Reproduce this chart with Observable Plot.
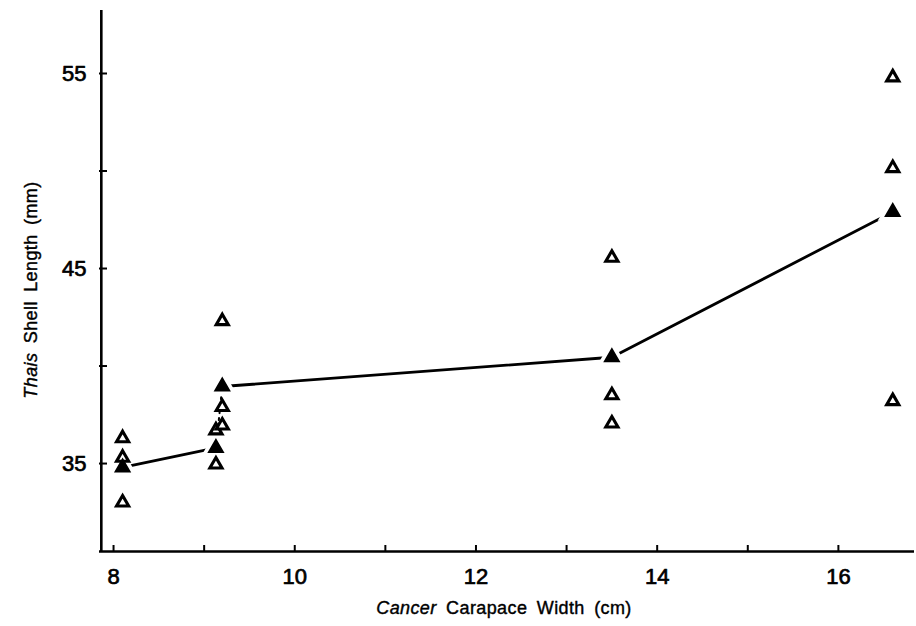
<!DOCTYPE html>
<html>
<head>
<meta charset="utf-8">
<script src="https://cdn.jsdelivr.net/npm/d3@7"></script>
<script src="https://cdn.jsdelivr.net/npm/@observablehq/plot@0.6"></script>
<style>
  html, body { margin: 0; padding: 0; background: #fff; }
  #chart svg { display: block; }
</style>
</head>
<body>
<div id="chart"></div>
<script>
// Individual observations (open triangles)
const obsX = [8.1, 8.1, 8.1, 9.13, 9.13, 9.2, 9.2, 9.2, 13.5, 13.5, 13.5, 16.6, 16.6, 16.6];
const obsY = [36.3, 35.3, 33.0, 36.7, 34.95, 42.3, 37.9, 36.95, 45.55, 38.5, 37.05, 54.8, 50.15, 38.2];

// Means (filled triangles, joined by the line)
const meanX = [8.1, 9.13, 9.2, 13.5, 16.6];
const meanY = [34.8, 35.8, 38.95, 40.45, 47.9];
const meanGroup = ["a", "a", "b", "b", "b"];

// Axis ticks and labels
const xTicks = [8, 9, 10, 11, 12, 13, 14, 15, 16];
const xLabels = [8, 10, 12, 14, 16];
const yTicks = [35, 40, 45, 50, 55];
const yLabels = [35, 45, 55];

const xDomain = [7.845, 16.84];
const yDomain = [30.49, 58.23];

const obs = obsX.map((x, i) => ({x, y: obsY[i]}));
const means = meanX.map((x, i) => ({x, y: meanY[i], g: meanGroup[i]}));
const dotted = means.slice(1, 3);

const W = 916, H = 626;
const mTop = 10, mBottom = 75, mLeft = 99, mRight = 2;
const innerH = H - mTop - mBottom, innerW = W - mLeft - mRight;
const font = "'Liberation Sans', Arial, sans-serif";

const plot = Plot.plot({
  width: W,
  height: H,
  marginTop: mTop,
  marginBottom: mBottom,
  marginLeft: mLeft,
  marginRight: mRight,
  style: {fontFamily: font, color: "#000", background: "#fff"},
  x: {domain: xDomain, label: null, axis: null},
  y: {domain: yDomain, label: null, axis: null},
  marks: [
    // axis lines
    Plot.ruleY([yDomain[0]], {stroke: "#000", strokeWidth: 2.6}),
    Plot.ruleX([xDomain[0] + 0.02], {stroke: "#000", strokeWidth: 2.6}),
    // inward ticks
    Plot.tickX(xTicks, {x: d => d, stroke: "#000", strokeWidth: 2, insetTop: innerH - 6}),
    Plot.tickY(yTicks, {y: d => d, stroke: "#000", strokeWidth: 2, insetRight: innerW - 8}),
    // tick labels
    Plot.text(xLabels, {x: d => d, frameAnchor: "bottom", dy: 32, text: d => String(d), fontSize: 22, fill: "#000", stroke: "#000", strokeWidth: 0.7, letterSpacing: 1}),
    Plot.text(yLabels, {y: d => d, frameAnchor: "left", dx: -13, textAnchor: "end", text: d => String(d), fontSize: 22, fill: "#000", stroke: "#000", strokeWidth: 0.7, letterSpacing: 2.5}),
    // connecting line of means
    Plot.line(means, {x: "x", y: "y", z: "g", stroke: "#000", strokeWidth: 2.8}),
    Plot.line(dotted, {x: "x", y: "y", stroke: "#000", strokeWidth: 2, strokeDasharray: "2,5"}),
    // white halos around means so the line stops short of the markers
    Plot.dot(means, {x: "x", y: "y", symbol: "triangle", r: 5.4, fill: "#fff", stroke: "#fff", strokeWidth: 9}),
    // observations
    Plot.dot(obs, {x: "x", y: "y", symbol: "triangle", r: 4.5, fill: "#fff", stroke: "#000", strokeWidth: 3.1}),
    // means
    Plot.dot(means, {x: "x", y: "y", symbol: "triangle", r: 5.4, fill: "#000", stroke: "#000", strokeWidth: 1.6})
  ]
});

document.getElementById("chart").appendChild(plot);

// Axis titles with italic genus names
const svg = d3.select(plot);
function title(sel) {
  return sel.attr("text-anchor", "middle")
    .attr("font-family", font).attr("font-size", 18)
    .attr("fill", "#000").attr("stroke", "#000").attr("stroke-width", 0.4)
    .style("word-spacing", "4px").style("letter-spacing", "0.4px");
}
const xt = title(svg.append("text").attr("x", 504).attr("y", 614));
xt.append("tspan").attr("font-style", "italic").text("Cancer");
xt.append("tspan").text(" Carapace Width (cm)");

const yt = title(svg.append("text").attr("transform", "translate(37,290) rotate(-90)"));
yt.append("tspan").attr("font-style", "italic").text("Thais");
yt.append("tspan").text(" Shell Length (mm)");
</script>
</body>
</html>
